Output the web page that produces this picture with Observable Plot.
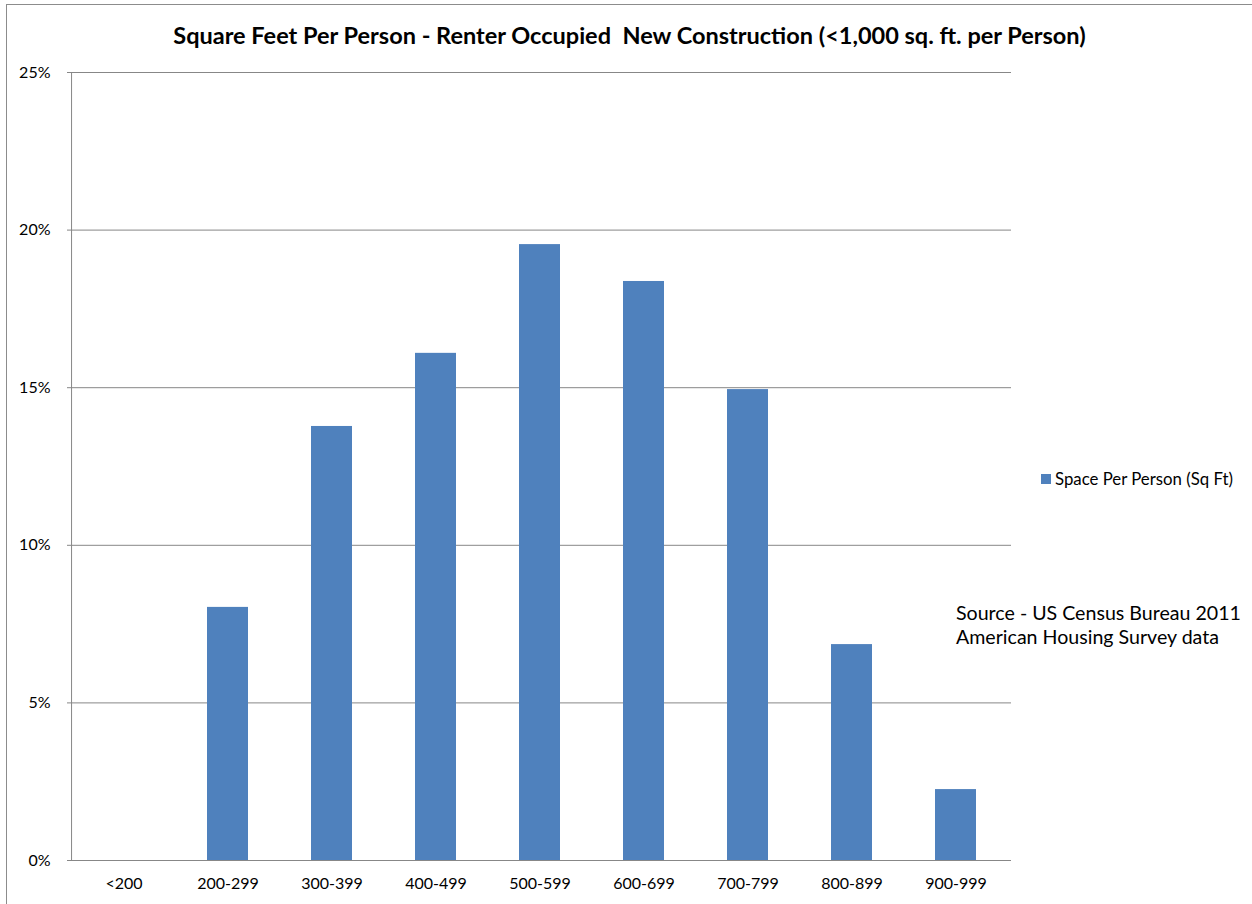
<!DOCTYPE html>
<html>
<head>
<meta charset="utf-8">
<script src="https://cdn.jsdelivr.net/npm/d3@7"></script>
<script src="https://cdn.jsdelivr.net/npm/@observablehq/plot@0.6"></script>
<style>
  html, body { margin: 0; padding: 0; background: #fff; }
  #wrap { position: relative; width: 1252px; height: 904px; overflow: hidden; font-family: Lato, "Open Sans", sans-serif; color: #000; }
  #border { position: absolute; left: 6px; top: 4px; width: 1300px; height: 1000px; border: 1.5px solid #8c8c8c; box-sizing: border-box; }
  #title { position: absolute; left: 0; width: 1259px; top: 21px; text-align: center; font-weight: bold; font-size: 23.5px; white-space: pre; }
  #legend { position: absolute; left: 1041px; top: 468px; font-size: 16.8px; display: flex; align-items: center; white-space: nowrap; }
  #legend .sw { width: 10px; height: 10px; background: #4F81BD; margin-right: 4px; }
  #source { position: absolute; left: 956px; top: 601px; font-size: 19.6px; line-height: 24px; white-space: nowrap; }
  #chart { position: absolute; left: 0; top: 0; }
</style>
</head>
<body>
<div id="wrap">
  <div id="chart"></div>
  <div id="border"></div>
  <div id="title">Square Feet Per Person - Renter Occupied  New Construction (&lt;1,000 sq. ft. per Person)</div>
  <div id="legend"><div class="sw"></div><span>Space Per Person (Sq Ft)</span></div>
  <div id="source">Source - US Census Bureau 2011<br>American Housing Survey data</div>
</div>
<script>
const categories = ["<200", "200-299", "300-399", "400-499", "500-599", "600-699", "700-799", "800-899", "900-999"];
const values = [0, 0.0803, 0.1377, 0.1609, 0.1954, 0.1837, 0.1494, 0.0685, 0.0225];
const yTicks = [0, 0.05, 0.10, 0.15, 0.20, 0.25];

const data = categories.map((c, i) => ({cat: c, val: values[i]}));

const chart = Plot.plot({
  width: 1252,
  height: 904,
  marginLeft: 67,
  marginRight: 241,
  marginTop: 72,
  marginBottom: 44,
  style: {fontFamily: "Lato, 'Open Sans', sans-serif", fontSize: "16px", background: "transparent", color: "#000"},
  x: {domain: categories, paddingInner: 0.61, paddingOuter: 0.305, label: null},
  y: {domain: [0, 0.25], label: null},
  marks: [
    Plot.ruleY(yTicks, {stroke: "#878787", strokeWidth: 1}),
    Plot.ruleX([0], {x: () => categories[0], dx: -52.45, y1: 0, y2: 0.25, stroke: "#878787"}),
    Plot.barY(data, {x: "cat", y: "val", fill: "#4F81BD"}),
    Plot.axisY({ticks: yTicks, tickFormat: d3.format(".0%"), tickSize: 0, tickPadding: 17, fontSize: 16, label: null}),
    Plot.axisX({tickSize: 0, tickPadding: 17, fontSize: 16, label: null})
  ]
});
document.getElementById("chart").appendChild(chart);
</script>
</body>
</html>
